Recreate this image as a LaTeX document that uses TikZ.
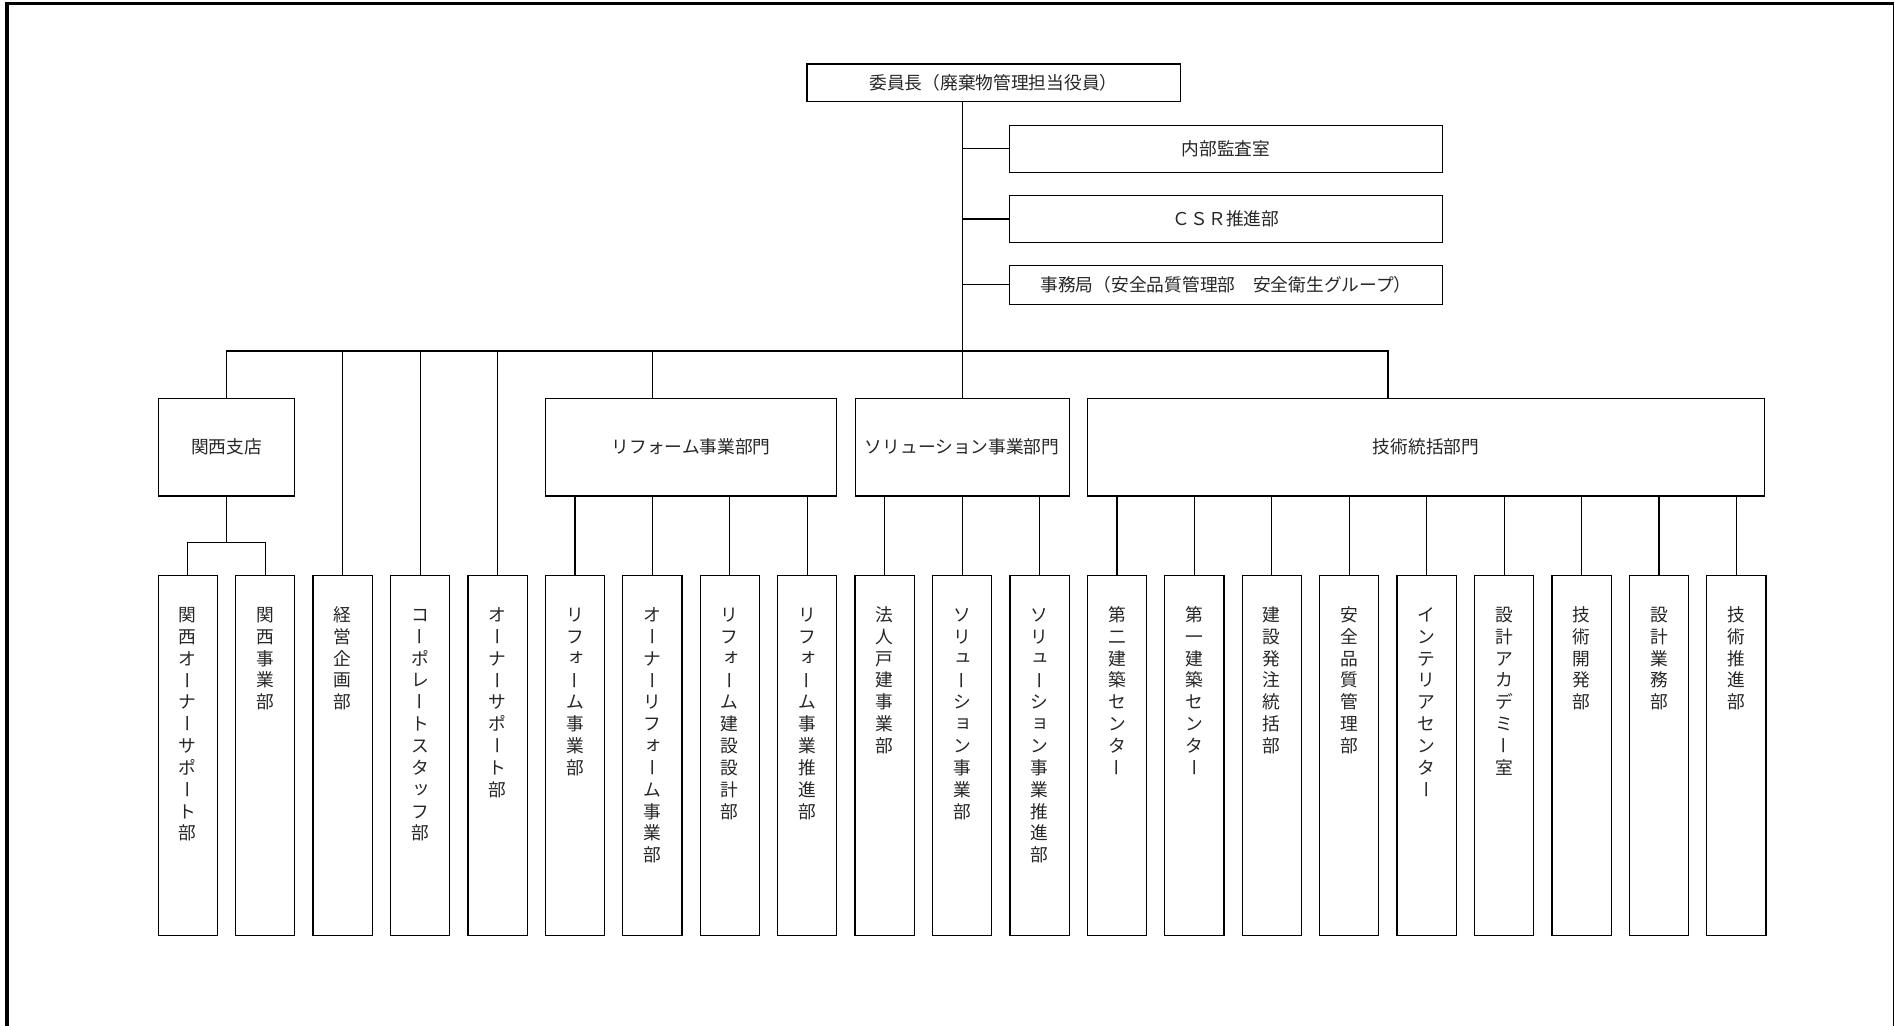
\documentclass[tikz,border=0pt]{standalone}
\usepackage{fontspec}
\setmainfont{Noto Sans CJK JP}
\usepackage{graphicx}

% senkrechter Strich fuer das Langvokalzeichen
\newcommand\tatebar{\rotatebox[origin=c]{90}{\raisebox{0pt}[0.88em][0.12em]{ー}}}

% Text von oben nach unten setzen
\ExplSyntaxOn
\NewDocumentCommand \tate { m }
  {
    \vbox_to_ht:nn { 178.8pt }
      {
        \skip_vertical:n { 15.1pt }
        \baselineskip = 10.86pt
        \lineskiplimit = -\maxdimen
        \tl_map_inline:nn {#1}
          {
            \tl_if_in:nnTF { ー } {##1}
              { \hbox_to_wd:nn {1em} { \vrule height 0.88em depth 0pt width 0pt \hss \tatebar \hss } }
              {
                \tl_if_in:nnTF { ァィゥェォッャュョ } {##1}
                  { \hbox_to_wd:nn {1em} { \vrule height 0.88em depth 0pt width 0pt \hss \kern0.12em \raise0.12em \hbox{##1} \hss } }
                  { \hbox_to_wd:nn {1em} { \vrule height 0.88em depth 0pt width 0pt \hss ##1 \hss } }
              }
          }
        \vfill
      }
  }
\ExplSyntaxOff

\tikzset{
  kasen/.style={line width=0.6pt},
  waku/.style={draw, line width=0.6pt, inner sep=0pt, font=\fontsize{8.8}{10}\selectfont, text=black!85},
  tatebox/.style={waku, minimum width=29.4pt},
}

\begin{document}
\begin{tikzpicture}[x=0.6pt, y=-0.6pt]
    \useasboundingbox (0,0) rectangle (1568,849);
    \clip (0,0) rectangle (1568,849);

    % Rahmen
    \draw[line width=1.5pt] (5.8,849) -- (5.8,2.9) -- (1568.15,2.9) -- (1568.15,849);

    % Kopf
    \node[waku, minimum width=185.4pt, minimum height=18.6pt] (iincho) at (822.5,68.5) {委員長（廃棄物管理担当役員）};

    % Stabsstellen rechts
    \node[waku, minimum width=214.8pt, minimum height=23.2pt] (naibu) at (1015,123.2) {内部監査室};
    \node[waku, minimum width=214.8pt, minimum height=23.2pt] (csr) at (1015,181.3) {ＣＳＲ推進部};
    \node[waku, minimum width=214.8pt, minimum height=19.3pt] (jimu) at (1015,235.7) {事務局（安全品質管理部　安全衛生グループ）};

    % zweite Ebene
    \node[waku, minimum width=67.9pt, minimum height=48.5pt] (kansai) at (187.55,370.15) {関西支店};
    \node[waku, minimum width=144.8pt, minimum height=48.5pt] (reform) at (572.15,370.15) {リフォーム事業部門};
    \node[waku, minimum width=106.3pt, minimum height=48.5pt] (sol) at (796.5,370.15) {ソリューション事業部門};
    \node[waku, minimum width=336.5pt, minimum height=48.5pt] (gijutsu) at (1180.6,370.15) {技術統括部門};

    % dritte Ebene
    \node[tatebox] (b0) at (155.5,625.3) {\tate{関西オーナーサポート部}};
    \node[tatebox] (b1) at (219.6,625.3) {\tate{関西事業部}};
    \node[tatebox] (b2) at (283.7,625.3) {\tate{経営企画部}};
    \node[tatebox] (b3) at (347.8,625.3) {\tate{コーポレートスタッフ部}};
    \node[tatebox] (b4) at (411.9,625.3) {\tate{オーナーサポート部}};
    \node[tatebox] (b5) at (476.0,625.3) {\tate{リフォーム事業部}};
    \node[tatebox] (b6) at (540.1,625.3) {\tate{オーナーリフォーム事業部}};
    \node[tatebox] (b7) at (604.2,625.3) {\tate{リフォーム建設設計部}};
    \node[tatebox] (b8) at (668.3,625.3) {\tate{リフォーム事業推進部}};
    \node[tatebox] (b9) at (732.4,625.3) {\tate{法人戸建事業部}};
    \node[tatebox] (b10) at (796.5,625.3) {\tate{ソリューション事業部}};
    \node[tatebox] (b11) at (860.6,625.3) {\tate{ソリューション事業推進部}};
    \node[tatebox] (b12) at (924.7,625.3) {\tate{第二建築センター}};
    \node[tatebox] (b13) at (988.8,625.3) {\tate{第一建築センター}};
    \node[tatebox] (b14) at (1052.9,625.3) {\tate{建設発注統括部}};
    \node[tatebox] (b15) at (1117.0,625.3) {\tate{安全品質管理部}};
    \node[tatebox] (b16) at (1181.1,625.3) {\tate{インテリアセンター}};
    \node[tatebox] (b17) at (1245.2,625.3) {\tate{設計アカデミー室}};
    \node[tatebox] (b18) at (1309.3,625.3) {\tate{技術開発部}};
    \node[tatebox] (b19) at (1373.4,625.3) {\tate{設計業務部}};
    \node[tatebox] (b20) at (1437.5,625.3) {\tate{技術推進部}};

    % Stamm und Stabsstellen
    \draw[kasen] (sol.north |- iincho.south) -- (sol.north);
    \draw[kasen] (sol.north |- naibu.west) -- (naibu.west);
    \draw[kasen] (sol.north |- csr.west) -- (csr.west);
    \draw[kasen] (sol.north |- jimu.west) -- (jimu.west);

    % Sammelschiene
    \coordinate (busL) at (187.55,290.5);
    \coordinate (busR) at (1149,290.5);
    \draw[kasen] (kansai.north) -- (busL) -- (busR) -- (busR |- gijutsu.north);
    \draw[kasen] (b2.north |- busL) -- (b2.north);
    \draw[kasen] (b3.north |- busL) -- (b3.north);
    \draw[kasen] (b4.north |- busL) -- (b4.north);
    \draw[kasen] (b6.north |- busL) -- (b6.north |- reform.north);

    % Kansai
    \coordinate (kbr) at (187.55,449);
    \draw[kasen] (kansai.south) -- (kbr);
    \draw[kasen] (b0.north) -- (b0.north |- kbr) -- (b1.north |- kbr) -- (b1.north);

    % Reform
    \draw[kasen] (b5.north |- reform.south) -- (b5.north);
    \draw[kasen] (b6.north |- reform.south) -- (b6.north);
    \draw[kasen] (b7.north |- reform.south) -- (b7.north);
    \draw[kasen] (b8.north |- reform.south) -- (b8.north);

    % Solution
    \draw[kasen] (b9.north |- sol.south) -- (b9.north);
    \draw[kasen] (b10.north |- sol.south) -- (b10.north);
    \draw[kasen] (b11.north |- sol.south) -- (b11.north);

    % Gijutsu
    \draw[kasen] (b12.north |- gijutsu.south) -- (b12.north);
    \draw[kasen] (b13.north |- gijutsu.south) -- (b13.north);
    \draw[kasen] (b14.north |- gijutsu.south) -- (b14.north);
    \draw[kasen] (b15.north |- gijutsu.south) -- (b15.north);
    \draw[kasen] (b16.north |- gijutsu.south) -- (b16.north);
    \draw[kasen] (b17.north |- gijutsu.south) -- (b17.north);
    \draw[kasen] (b18.north |- gijutsu.south) -- (b18.north);
    \draw[kasen] (b19.north |- gijutsu.south) -- (b19.north);
    \draw[kasen] (b20.north |- gijutsu.south) -- (b20.north);
  \end{tikzpicture}
\end{document}
